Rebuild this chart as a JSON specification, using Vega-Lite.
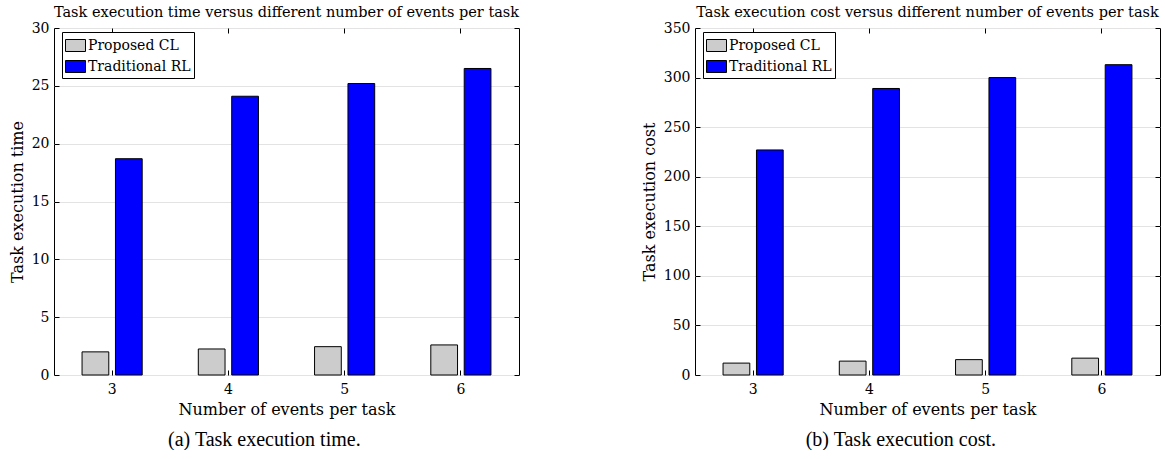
{
  "$schema": "https://vega.github.io/schema/vega-lite/v6.json",
  "background": "white",
  "padding": {"left": 8, "top": 4, "right": 0, "bottom": 0},
  "spacing": 120,
  "config": {
    "font": "DejaVu Serif",
    "view": {"stroke": "black", "strokeWidth": 1},
    "axis": {
      "labelFont": "DejaVu Serif",
      "titleFont": "DejaVu Serif",
      "labelFontSize": 14,
      "titleFontSize": 16,
      "titleFontWeight": "normal",
      "labelColor": "black",
      "titleColor": "black",
      "domain": false,
      "tickColor": "black",
      "tickSize": -5,
      "gridColor": "#e3e3e3",
      "gridWidth": 1
    },
    "legend": {
      "labelFont": "DejaVu Serif",
      "labelFontSize": 14,
      "labelColor": "black"
    },
    "title": {"font": "DejaVu Serif", "fontWeight": "normal", "color": "black"}
  },
  "datasets": {
    "time": [
      {"events": 3, "method": "Proposed CL", "value": 2.0},
      {"events": 3, "method": "Traditional RL", "value": 18.7},
      {"events": 4, "method": "Proposed CL", "value": 2.25},
      {"events": 4, "method": "Traditional RL", "value": 24.1},
      {"events": 5, "method": "Proposed CL", "value": 2.45},
      {"events": 5, "method": "Traditional RL", "value": 25.2},
      {"events": 6, "method": "Proposed CL", "value": 2.6},
      {"events": 6, "method": "Traditional RL", "value": 26.5}
    ],
    "cost": [
      {"events": 3, "method": "Proposed CL", "value": 12},
      {"events": 3, "method": "Traditional RL", "value": 227},
      {"events": 4, "method": "Proposed CL", "value": 14},
      {"events": 4, "method": "Traditional RL", "value": 289},
      {"events": 5, "method": "Proposed CL", "value": 15.5},
      {"events": 5, "method": "Traditional RL", "value": 300},
      {"events": 6, "method": "Proposed CL", "value": 17},
      {"events": 6, "method": "Traditional RL", "value": 313}
    ]
  },
  "hconcat": [
    {
      "title": {"text": "(a) Task execution time.", "orient": "bottom", "anchor": "middle", "fontSize": 20, "font": "Liberation Serif", "offset": 12},
      "vconcat": [
        {
          "width": 465,
          "height": 347,
          "data": {"name": "time"},
          "title": {"text": "Task execution time versus different number of events per task", "fontSize": 14.5, "offset": 1},
          "layer": [
            {
              "mark": {"type": "bar", "stroke": "black", "strokeWidth": 1},
              "encoding": {
                "x": {"field": "events", "type": "ordinal", "title": "Number of events per task",
                      "scale": {"paddingInner": 0, "paddingOuter": 0},
                      "axis": {"labelAngle": 0, "bandPosition": 0.5, "labelPadding": 12, "titlePadding": 5}},
                "xOffset": {"field": "method", "type": "nominal", "scale": {"paddingInner": 0.2, "paddingOuter": 0.84}},
                "y": {"field": "value", "type": "quantitative", "title": "Task execution time",
                      "scale": {"domain": [0, 30], "nice": false},
                      "axis": {"values": [0, 5, 10, 15, 20, 25, 30], "labelPadding": 10, "titlePadding": 6}},
                "fill": {"field": "method", "type": "nominal",
                         "scale": {"domain": ["Proposed CL", "Traditional RL"], "range": ["#cccccc", "#0000ff"]},
                         "legend": {"title": null, "orient": "none", "legendX": 8, "legendY": 4,
                                    "strokeColor": "black", "fillColor": "white", "padding": 3,
                                    "symbolType": "M-1,-0.6H1V0.6H-1Z", "symbolSize": 400,
                                    "symbolStrokeColor": "black", "symbolStrokeWidth": 1, "symbolOpacity": 1,
                                    "rowPadding": 2, "labelOffset": 2}}
              }
            },
            {
              "mark": {"type": "bar", "opacity": 0},
              "encoding": {
                "x": {"field": "events", "type": "ordinal",
                      "scale": {"paddingInner": 0, "paddingOuter": 0},
                      "axis": {"orient": "top", "labels": false, "title": null, "grid": false, "bandPosition": 0.5}},
                "xOffset": {"field": "method", "type": "nominal"},
                "y": {"field": "value", "type": "quantitative",
                      "axis": {"orient": "right", "labels": false, "title": null, "grid": false, "values": [0, 5, 10, 15, 20, 25, 30]}}
              }
            }
          ],
          "resolve": {"axis": {"x": "independent", "y": "independent"}}
        }
      ]
    },
    {
      "title": {"text": "(b) Task execution cost.", "orient": "bottom", "anchor": "middle", "fontSize": 20, "font": "Liberation Serif", "offset": 12},
      "vconcat": [
        {
          "width": 465,
          "height": 347,
          "data": {"name": "cost"},
          "title": {"text": "Task execution cost versus different number of events per task", "fontSize": 14.5, "offset": 1},
          "layer": [
            {
              "mark": {"type": "bar", "stroke": "black", "strokeWidth": 1},
              "encoding": {
                "x": {"field": "events", "type": "ordinal", "title": "Number of events per task",
                      "scale": {"paddingInner": 0, "paddingOuter": 0},
                      "axis": {"labelAngle": 0, "bandPosition": 0.5, "labelPadding": 12, "titlePadding": 5}},
                "xOffset": {"field": "method", "type": "nominal", "scale": {"paddingInner": 0.2, "paddingOuter": 0.84}},
                "y": {"field": "value", "type": "quantitative", "title": "Task execution cost",
                      "scale": {"domain": [0, 350], "nice": false},
                      "axis": {"values": [0, 50, 100, 150, 200, 250, 300, 350], "labelPadding": 10, "titlePadding": 6}},
                "fill": {"field": "method", "type": "nominal",
                         "scale": {"domain": ["Proposed CL", "Traditional RL"], "range": ["#cccccc", "#0000ff"]},
                         "legend": {"title": null, "orient": "none", "legendX": 8, "legendY": 4,
                                    "strokeColor": "black", "fillColor": "white", "padding": 3,
                                    "symbolType": "M-1,-0.6H1V0.6H-1Z", "symbolSize": 400,
                                    "symbolStrokeColor": "black", "symbolStrokeWidth": 1, "symbolOpacity": 1,
                                    "rowPadding": 2, "labelOffset": 2}}
              }
            },
            {
              "mark": {"type": "bar", "opacity": 0},
              "encoding": {
                "x": {"field": "events", "type": "ordinal",
                      "scale": {"paddingInner": 0, "paddingOuter": 0},
                      "axis": {"orient": "top", "labels": false, "title": null, "grid": false, "bandPosition": 0.5}},
                "xOffset": {"field": "method", "type": "nominal"},
                "y": {"field": "value", "type": "quantitative",
                      "axis": {"orient": "right", "labels": false, "title": null, "grid": false, "values": [0, 50, 100, 150, 200, 250, 300, 350]}}
              }
            }
          ],
          "resolve": {"axis": {"x": "independent", "y": "independent"}}
        }
      ]
    }
  ],
  "resolve": {"scale": {"fill": "independent"}}
}
